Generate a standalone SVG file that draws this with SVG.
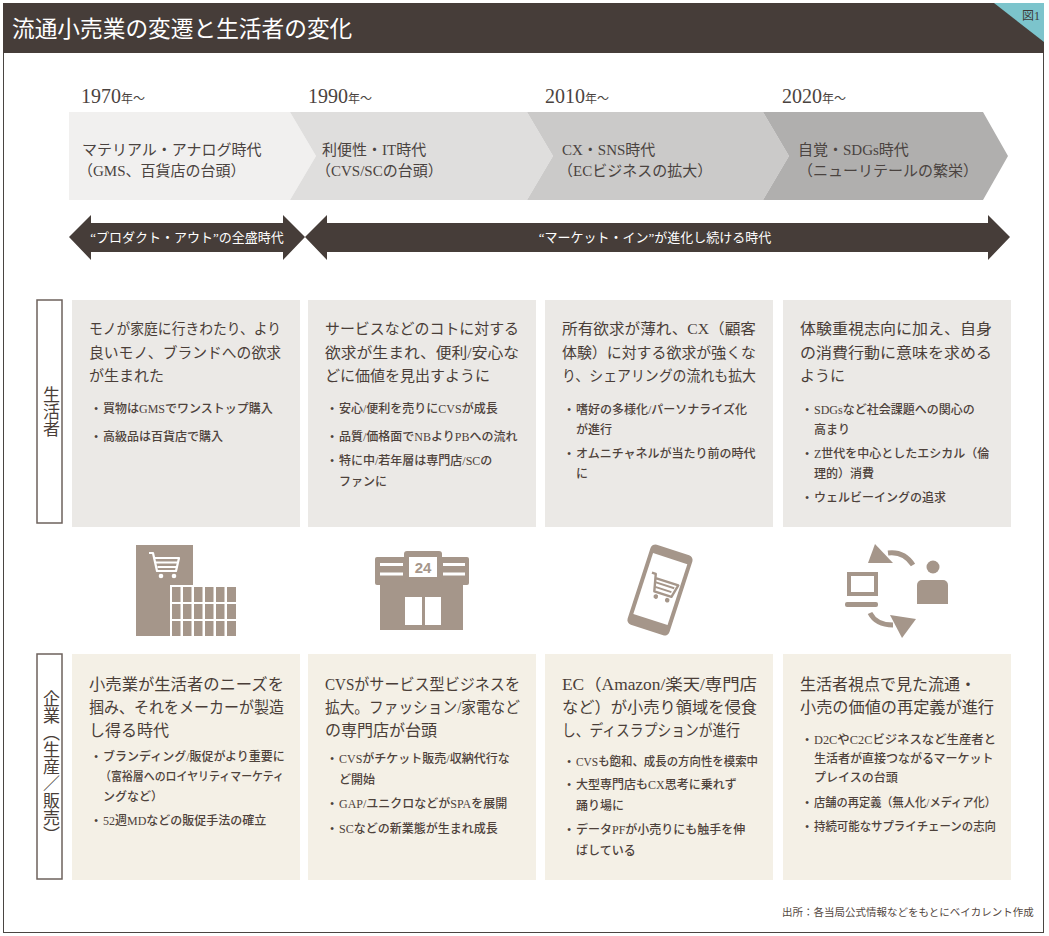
<svg xmlns="http://www.w3.org/2000/svg" width="1049" height="936" viewBox="0 0 1049 936">
<style>
.j{font-family:"Liberation Serif","Noto Sans CJK JP",serif;}
.tt{font-size:22.7px;fill:#ffffff;}
.yr{fill:#4a4340;}
.tl{font-size:15px;fill:#4a4340;}
.ar{font-size:13px;fill:#ffffff;}
.hd{font-size:15px;fill:#4a3e38;}
.hc{font-size:16px;fill:#4a3e38;}
.bl{font-size:12px;fill:#4e423b;font-weight:500;}
.lb{font-size:17px;fill:#4a3e38;}
.pc{fill:#ebe9e6;}
.pk{fill:#f4f0e6;}
.box{fill:#ffffff;stroke:#6d625c;stroke-width:1.5;}
.ic{fill:#a5968a;}
.ics{fill:none;stroke:#a5968a;}
.dark{fill:#463d39;}
.vt{writing-mode:vertical-rl;text-orientation:mixed;}
</style>
<rect x="0" y="0" width="1049" height="936" fill="#ffffff"/>
<rect x="3.5" y="3.5" width="1040" height="929" fill="#ffffff" stroke="#4a4542" stroke-width="1"/>
<g id="header">
<rect x="3" y="3" width="1041" height="50" class="dark"/>
<polygon points="994,3 1044,3 1044,42" fill="#7cc4cc"/>
<text x="1040" y="20" text-anchor="end" class="j" font-size="12" fill="#3d3a38">図1</text>
<text x="12" y="37" class="j tt">流通小売業の変遷と生活者の変化</text>
</g>
<g id="timeline">
<g id="era-1970">
<polygon points="69,112 290,112 316,156 290,200 69,200" fill="#f1f0ef"/>
<text x="81" y="103" class="j yr"><tspan font-size="20">1970</tspan><tspan font-size="12">年～</tspan></text>
<text x="82" y="155" class="j tl">マテリアル・アナログ時代</text>
<text x="78" y="176" class="j tl">（GMS、百貨店の台頭）</text>
</g>
<g id="era-1990">
<polygon points="290,112 527,112 553,156 527,200 290,200 316,156" fill="#dfdedd"/>
<text x="308" y="103" class="j yr"><tspan font-size="20">1990</tspan><tspan font-size="12">年～</tspan></text>
<text x="322" y="155" class="j tl">利便性・IT時代</text>
<text x="316" y="176" class="j tl">（CVS/SCの台頭）</text>
</g>
<g id="era-2010">
<polygon points="527,112 763,112 789,156 763,200 527,200 553,156" fill="#cbcac9"/>
<text x="545" y="103" class="j yr"><tspan font-size="20">2010</tspan><tspan font-size="12">年～</tspan></text>
<text x="562" y="155" class="j tl">CX・SNS時代</text>
<text x="558" y="176" class="j tl">（ECビジネスの拡大）</text>
</g>
<g id="era-2020">
<polygon points="763,112 983,112 1008,156 983,200 763,200 789,156" fill="#b0afae"/>
<text x="782" y="103" class="j yr"><tspan font-size="20">2020</tspan><tspan font-size="12">年～</tspan></text>
<text x="798" y="155" class="j tl">自覚・SDGs時代</text>
<text x="798" y="176" class="j tl">（ニューリテールの繁栄）</text>
</g>
</g>
<g id="connectors">
<g id="arrow-product-out">
<polygon points="69,237 91,215 91,223 283,223 283,215 305,237 283,260 283,252 91,252 91,260" class="dark"/>
<text x="187" y="242" text-anchor="middle" class="j ar">“プロダクト・アウト”の全盛時代</text>
</g>
<g id="arrow-market-in">
<polygon points="305,237 327,215 327,223 988,223 988,215 1010,237 988,260 988,252 327,252 327,260" class="dark"/>
<text x="655" y="242" text-anchor="middle" class="j ar">“マーケット・イン”が進化し続ける時代</text>
</g>
</g>
<g id="label-consumer">
<rect x="37" y="300" width="25" height="223" class="box"/>
<text x="49.5" y="412" text-anchor="middle" class="j lb vt">生活者</text>
</g>
<g id="consumer-1970">
<rect x="72" y="300" width="228" height="227" class="pc"/>
<text x="89" y="334" class="j hd" textLength="192" lengthAdjust="spacingAndGlyphs">モノが家庭に行きわたり、より</text>
<text x="89" y="358" class="j hd" textLength="192" lengthAdjust="spacingAndGlyphs">良いモノ、ブランドへの欲求</text>
<text x="89" y="381" class="j hd">が生まれた</text>
<text x="94" y="413" class="j bl">•<tspan x="103">買物はGMSでワンストップ購入</tspan></text>
<text x="94" y="441" class="j bl">•<tspan x="103">高級品は百貨店で購入</tspan></text>
</g>
<g id="consumer-1990">
<rect x="308" y="300" width="228" height="227" class="pc"/>
<text x="325" y="334" class="j hd" textLength="194" lengthAdjust="spacingAndGlyphs">サービスなどのコトに対する</text>
<text x="325" y="358" class="j hd" textLength="194" lengthAdjust="spacingAndGlyphs">欲求が生まれ、便利/安心な</text>
<text x="325" y="381" class="j hd">どに価値を見出すように</text>
<text x="330" y="413" class="j bl">•<tspan x="339">安心/便利を売りにCVSが成長</tspan></text>
<text x="330" y="441" class="j bl">•<tspan x="339">品質/価格面でNBよりPBへの流れ</tspan></text>
<text x="330" y="465" class="j bl">•<tspan x="339">特に中/若年層は専門店/SCの</tspan></text>
<text x="339" y="486" class="j bl">ファンに</text>
</g>
<g id="consumer-2010">
<rect x="545" y="300" width="228" height="227" class="pc"/>
<text x="562" y="334" class="j hd" textLength="194" lengthAdjust="spacingAndGlyphs">所有欲求が薄れ、CX（顧客</text>
<text x="562" y="358" class="j hd" textLength="194" lengthAdjust="spacingAndGlyphs">体験）に対する欲求が強くな</text>
<text x="562" y="381" class="j hd" textLength="194" lengthAdjust="spacingAndGlyphs">り、シェアリングの流れも拡大</text>
<text x="567" y="414" class="j bl">•<tspan x="576">嗜好の多様化/パーソナライズ化</tspan></text>
<text x="576" y="434" class="j bl">が進行</text>
<text x="567" y="458" class="j bl">•<tspan x="576">オムニチャネルが当たり前の時代</tspan></text>
<text x="576" y="478" class="j bl">に</text>
</g>
<g id="consumer-2020">
<rect x="783" y="300" width="228" height="227" class="pc"/>
<text x="800" y="334" class="j hd" textLength="192" lengthAdjust="spacingAndGlyphs">体験重視志向に加え、自身</text>
<text x="800" y="358" class="j hd" textLength="192" lengthAdjust="spacingAndGlyphs">の消費行動に意味を求める</text>
<text x="800" y="381" class="j hd">ように</text>
<text x="805" y="414" class="j bl">•<tspan x="814">SDGsなど社会課題への関心の</tspan></text>
<text x="814" y="434" class="j bl">高まり</text>
<text x="805" y="458" class="j bl">•<tspan x="814">Z世代を中心としたエシカル（倫</tspan></text>
<text x="814" y="478" class="j bl">理的）消費</text>
<text x="805" y="502" class="j bl">•<tspan x="814">ウェルビーイングの追求</tspan></text>
</g>
<g id="icon-gms">
<rect x="136" y="545" width="57" height="91" class="ic"/>
<rect x="170" y="585" width="66" height="51" fill="#ffffff"/>
<g class="ic">
<rect x="172" y="587" width="8.5" height="15"/><rect x="183" y="587" width="8.5" height="15"/><rect x="194" y="587" width="8.5" height="15"/><rect x="205" y="587" width="8.5" height="15"/><rect x="216" y="587" width="8.5" height="15"/><rect x="227" y="587" width="9" height="15"/>
<rect x="172" y="604" width="8.5" height="15"/><rect x="183" y="604" width="8.5" height="15"/><rect x="194" y="604" width="8.5" height="15"/><rect x="205" y="604" width="8.5" height="15"/><rect x="216" y="604" width="8.5" height="15"/><rect x="227" y="604" width="9" height="15"/>
<rect x="172" y="621" width="8.5" height="15"/><rect x="183" y="621" width="8.5" height="15"/><rect x="194" y="621" width="8.5" height="15"/><rect x="205" y="621" width="8.5" height="15"/><rect x="216" y="621" width="8.5" height="15"/><rect x="227" y="621" width="9" height="15"/>
</g>
<path d="M149,553 h4 l4,18 h19 l3,-13 h-24" fill="none" stroke="#ffffff" stroke-width="2.2" stroke-linejoin="round"/>
<path d="M156,562.5 h21 M157.5,567 h19" stroke="#ffffff" stroke-width="2"/>
<circle cx="161" cy="576" r="2.3" fill="#ffffff"/>
<circle cx="174" cy="576" r="2.3" fill="#ffffff"/>
</g>
<g id="icon-cvs">
<rect x="375" y="557" width="94" height="28" rx="2" class="ic"/>
<rect x="380" y="584" width="83" height="46" class="ic"/>
<rect x="380" y="563" width="23" height="3" fill="#ffffff"/>
<rect x="380" y="572.5" width="23" height="3" fill="#ffffff"/>
<rect x="443" y="563" width="22" height="3" fill="#ffffff"/>
<rect x="443" y="572.5" width="22" height="3" fill="#ffffff"/>
<rect x="404" y="551" width="38" height="31" rx="3" class="ic"/>
<rect x="409" y="557" width="28" height="20" fill="#ffffff"/>
<text x="423" y="573" text-anchor="middle" font-family="Liberation Sans, Arial, sans-serif" font-weight="bold" font-size="15" fill="#a5968a">24</text>
<rect x="405" y="597" width="17" height="28" fill="#ffffff"/>
<rect x="425" y="597" width="16" height="28" fill="#ffffff"/>
</g>
<g id="icon-ec">
<g transform="translate(660,590) rotate(18)">
<rect x="-22" y="-42" width="44" height="84" rx="5" class="ic"/>
<rect x="-18" y="-33" width="36" height="64" fill="#ffffff"/>
<path d="M-13,-14 h4 l4,17 h18 l3,-13 h-23" class="ics" stroke-width="2.4" stroke-linejoin="round"/>
<path d="M-7,-6 h20 M-5.5,-1.5 h17" class="ics" stroke-width="2"/>
<circle cx="-2" cy="7.5" r="2.3" class="ic"/>
<circle cx="10" cy="7.5" r="2.3" class="ic"/>
</g>
</g>
<g id="icon-d2c">
<rect x="849" y="574" width="27" height="20" class="ics" stroke-width="4"/>
<rect x="845" y="602" width="33" height="5" rx="2" class="ic"/>
<circle cx="933" cy="567" r="6.5" class="ic"/>
<path d="M917,604 V585 a5,5 0 0 1 5,-5 h21 a5,5 0 0 1 5,5 V604 Z" class="ic"/>
<path d="M913,565 Q904,551 888,553" class="ics" stroke-width="5"/>
<polygon points="875,544 868,563 893,563" class="ic"/>
<path d="M870,613 Q876,625 893,625" class="ics" stroke-width="5"/>
<polygon points="890,615 916,619 902,638" class="ic"/>
</g>
<g id="label-company">
<rect x="37" y="654" width="25" height="225" class="box"/>
<text x="49.5" y="767" text-anchor="middle" class="j lb vt">企業（生産／販売）</text>
</g>
<g id="company-1970">
<rect x="72" y="654" width="228" height="226" class="pk"/>
<text x="89" y="690" class="j hc" textLength="195" lengthAdjust="spacingAndGlyphs">小売業が生活者のニーズを</text>
<text x="89" y="713" class="j hc" textLength="195" lengthAdjust="spacingAndGlyphs">掴み、それをメーカーが製造</text>
<text x="89" y="736" class="j hc">し得る時代</text>
<text x="94" y="761" class="j bl">•<tspan x="103">ブランディング/販促がより重要に</tspan></text>
<text x="100" y="781" class="j bl" textLength="184" lengthAdjust="spacingAndGlyphs">（富裕層へのロイヤリティマーケティ</text>
<text x="103" y="801" class="j bl">ングなど）</text>
<text x="94" y="825" class="j bl">•<tspan x="103">52週MDなどの販促手法の確立</tspan></text>
</g>
<g id="company-1990">
<rect x="308" y="654" width="228" height="226" class="pk"/>
<text x="325" y="690" class="j hc" textLength="195" lengthAdjust="spacingAndGlyphs">CVSがサービス型ビジネスを</text>
<text x="325" y="713" class="j hc" textLength="195" lengthAdjust="spacingAndGlyphs">拡大。ファッション/家電など</text>
<text x="325" y="736" class="j hc">の専門店が台頭</text>
<text x="330" y="763" class="j bl">•<tspan x="339">CVSがチケット販売/収納代行な</tspan></text>
<text x="339" y="784" class="j bl">ど開始</text>
<text x="330" y="808" class="j bl">•<tspan x="339">GAP/ユニクロなどがSPAを展開</tspan></text>
<text x="330" y="833" class="j bl">•<tspan x="339">SCなどの新業態が生まれ成長</tspan></text>
</g>
<g id="company-2010">
<rect x="545" y="654" width="228" height="226" class="pk"/>
<text x="562" y="690" class="j hc" textLength="195" lengthAdjust="spacingAndGlyphs">EC（Amazon/楽天/専門店</text>
<text x="562" y="713" class="j hc" textLength="195" lengthAdjust="spacingAndGlyphs">など）が小売り領域を侵食</text>
<text x="562" y="736" class="j hc" textLength="178" lengthAdjust="spacingAndGlyphs">し、ディスラプションが進行</text>
<text x="567" y="766" class="j bl">•<tspan x="576" textLength="182" lengthAdjust="spacingAndGlyphs">CVSも飽和、成長の方向性を模索中</tspan></text>
<text x="567" y="789" class="j bl">•<tspan x="576">大型専門店もCX思考に乗れず</tspan></text>
<text x="576" y="810" class="j bl">踊り場に</text>
<text x="567" y="834" class="j bl">•<tspan x="576">データPFが小売りにも触手を伸</tspan></text>
<text x="576" y="855" class="j bl">ばしている</text>
</g>
<g id="company-2020">
<rect x="783" y="654" width="228" height="226" class="pk"/>
<text x="800" y="690" class="j hc">生活者視点で見た流通・</text>
<text x="800" y="713" class="j hc" textLength="194" lengthAdjust="spacingAndGlyphs">小売の価値の再定義が進行</text>
<text x="805" y="744" class="j bl">•<tspan x="814" textLength="182" lengthAdjust="spacingAndGlyphs">D2CやC2Cビジネスなど生産者と</tspan></text>
<text x="814" y="763" class="j bl">生活者が直接つながるマーケット</text>
<text x="814" y="782" class="j bl">プレイスの台頭</text>
<text x="805" y="807" class="j bl">•<tspan x="814" textLength="182" lengthAdjust="spacingAndGlyphs">店舗の再定義（無人化/メディア化）</tspan></text>
<text x="805" y="831" class="j bl">•<tspan x="814" textLength="182" lengthAdjust="spacingAndGlyphs">持続可能なサプライチェーンの志向</tspan></text>
</g>
<g id="footer">
<text x="782" y="916" class="j" font-size="10.5" fill="#54483f">出所：各当局公式情報などをもとにベイカレント作成</text>
</g>
</svg>
